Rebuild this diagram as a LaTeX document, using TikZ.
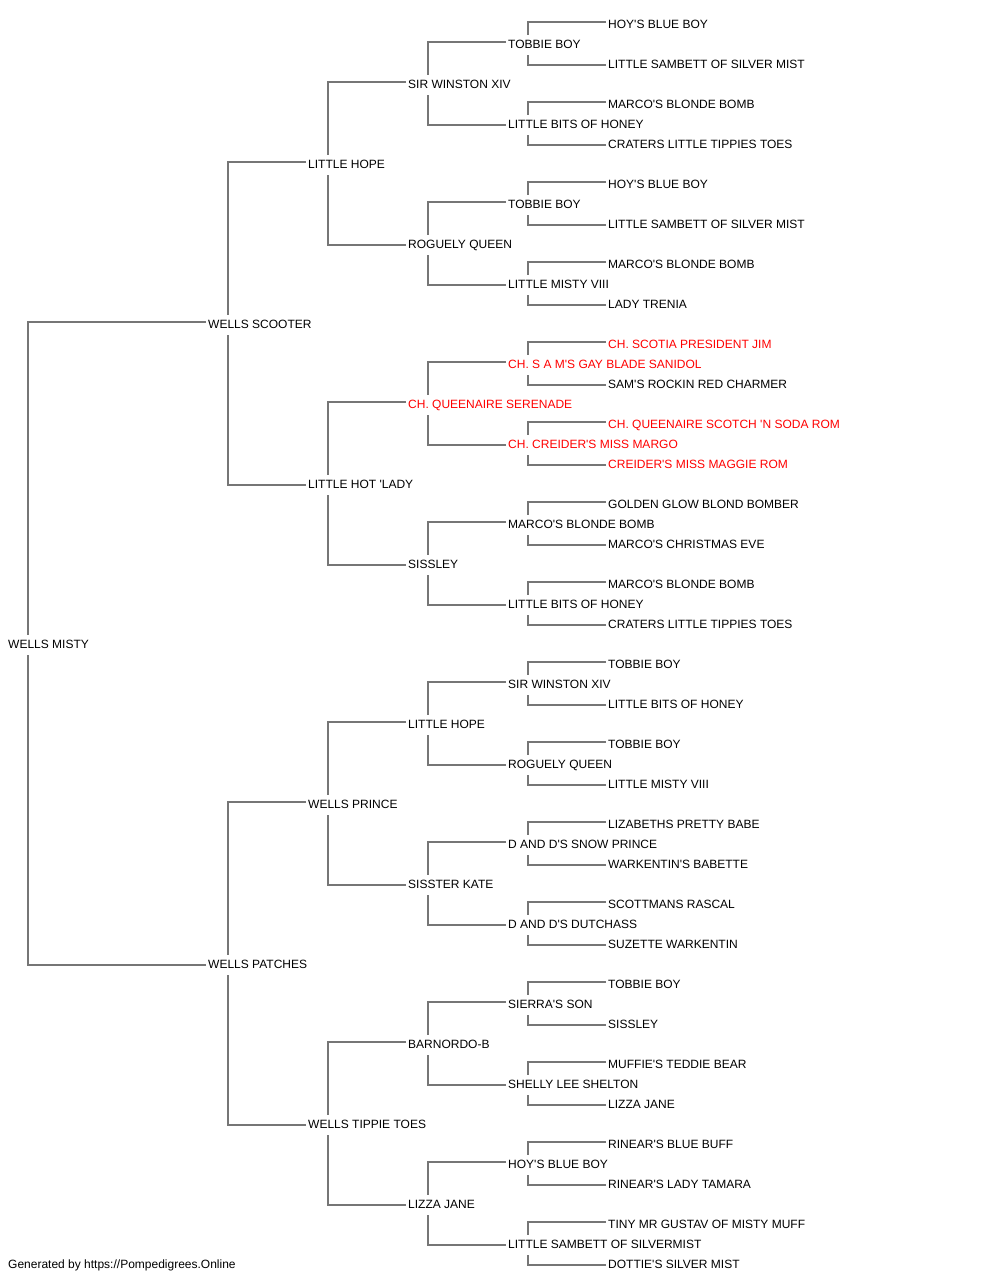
\documentclass[tikz,border=0pt]{standalone}
\usepackage{fontspec}
\setmainfont{Liberation Sans}[Ligatures=TeXOff]
\definecolor{lin}{RGB}{118,118,118}
\definecolor{chred}{RGB}{255,0,0}
\begin{document}
\begin{tikzpicture}[x=1pt,y=-1pt,
  nm/.style={anchor=west,inner sep=0pt,text height=8.6pt,text depth=0pt,font=\fontsize{12pt}{14pt}\selectfont},
  ch/.style={nm,text=chred},
  con/.style={draw=lin,line width=1.4pt}]
\useasboundingbox (0,0) rectangle (1000,1280);
% generation 0
\node[nm] (a1) at (8,644) {WELLS MISTY};
% generation 1
\node[nm] (b1) at (208,324) {WELLS SCOOTER};
\node[nm] (b2) at (208,964) {WELLS PATCHES};
% generation 2
\node[nm] (c1) at (308,164) {LITTLE HOPE};
\node[nm] (c2) at (308,484) {LITTLE HOT 'LADY};
\node[nm] (c3) at (308,804) {WELLS PRINCE};
\node[nm] (c4) at (308,1124) {WELLS TIPPIE TOES};
% generation 3
\node[nm] (d1) at (408,84) {SIR WINSTON XIV};
\node[nm] (d2) at (408,244) {ROGUELY QUEEN};
\node[ch] (d3) at (408,404) {CH. QUEENAIRE SERENADE};
\node[nm] (d4) at (408,564) {SISSLEY};
\node[nm] (d5) at (408,724) {LITTLE HOPE};
\node[nm] (d6) at (408,884) {SISSTER KATE};
\node[nm] (d7) at (408,1044) {BARNORDO-B};
\node[nm] (d8) at (408,1204) {LIZZA JANE};
% generation 4
\node[nm] (e1) at (508,44) {TOBBIE BOY};
\node[nm] (e2) at (508,124) {LITTLE BITS OF HONEY};
\node[nm] (e3) at (508,204) {TOBBIE BOY};
\node[nm] (e4) at (508,284) {LITTLE MISTY VIII};
\node[ch] (e5) at (508,364) {CH. S A M'S GAY BLADE SANIDOL};
\node[ch] (e6) at (508,444) {CH. CREIDER'S MISS MARGO};
\node[nm] (e7) at (508,524) {MARCO'S BLONDE BOMB};
\node[nm] (e8) at (508,604) {LITTLE BITS OF HONEY};
\node[nm] (e9) at (508,684) {SIR WINSTON XIV};
\node[nm] (e10) at (508,764) {ROGUELY QUEEN};
\node[nm] (e11) at (508,844) {D AND D'S SNOW PRINCE};
\node[nm] (e12) at (508,924) {D AND D'S DUTCHASS};
\node[nm] (e13) at (508,1004) {SIERRA'S SON};
\node[nm] (e14) at (508,1084) {SHELLY LEE SHELTON};
\node[nm] (e15) at (508,1164) {HOY'S BLUE BOY};
\node[nm] (e16) at (508,1244) {LITTLE SAMBETT OF SILVERMIST};
% generation 5
\node[nm] (f1) at (608,24) {HOY'S BLUE BOY};
\node[nm] (f2) at (608,64) {LITTLE SAMBETT OF SILVER MIST};
\node[nm] (f3) at (608,104) {MARCO'S BLONDE BOMB};
\node[nm] (f4) at (608,144) {CRATERS LITTLE TIPPIES TOES};
\node[nm] (f5) at (608,184) {HOY'S BLUE BOY};
\node[nm] (f6) at (608,224) {LITTLE SAMBETT OF SILVER MIST};
\node[nm] (f7) at (608,264) {MARCO'S BLONDE BOMB};
\node[nm] (f8) at (608,304) {LADY TRENIA};
\node[ch] (f9) at (608,344) {CH. SCOTIA PRESIDENT JIM};
\node[nm] (f10) at (608,384) {SAM'S ROCKIN RED CHARMER};
\node[ch] (f11) at (608,424) {CH. QUEENAIRE SCOTCH 'N SODA ROM};
\node[ch] (f12) at (608,464) {CREIDER'S MISS MAGGIE ROM};
\node[nm] (f13) at (608,504) {GOLDEN GLOW BLOND BOMBER};
\node[nm] (f14) at (608,544) {MARCO'S CHRISTMAS EVE};
\node[nm] (f15) at (608,584) {MARCO'S BLONDE BOMB};
\node[nm] (f16) at (608,624) {CRATERS LITTLE TIPPIES TOES};
\node[nm] (f17) at (608,664) {TOBBIE BOY};
\node[nm] (f18) at (608,704) {LITTLE BITS OF HONEY};
\node[nm] (f19) at (608,744) {TOBBIE BOY};
\node[nm] (f20) at (608,784) {LITTLE MISTY VIII};
\node[nm] (f21) at (608,824) {LIZABETHS PRETTY BABE};
\node[nm] (f22) at (608,864) {WARKENTIN'S BABETTE};
\node[nm] (f23) at (608,904) {SCOTTMANS RASCAL};
\node[nm] (f24) at (608,944) {SUZETTE WARKENTIN};
\node[nm] (f25) at (608,984) {TOBBIE BOY};
\node[nm] (f26) at (608,1024) {SISSLEY};
\node[nm] (f27) at (608,1064) {MUFFIE'S TEDDIE BEAR};
\node[nm] (f28) at (608,1104) {LIZZA JANE};
\node[nm] (f29) at (608,1144) {RINEAR'S BLUE BUFF};
\node[nm] (f30) at (608,1184) {RINEAR'S LADY TAMARA};
\node[nm] (f31) at (608,1224) {TINY MR GUSTAV OF MISTY MUFF};
\node[nm] (f32) at (608,1264) {DOTTIE'S SILVER MIST};
% footer
\node[nm] (foot) at (8,1264) {Generated by https://Pompedigrees.Online};
% connectors: child (P), sire (S), dam (D)
\foreach \P/\S/\D in {a1/b1/b2,
  b1/c1/c2, b2/c3/c4,
  c1/d1/d2, c2/d3/d4, c3/d5/d6, c4/d7/d8,
  d1/e1/e2, d2/e3/e4, d3/e5/e6, d4/e7/e8, d5/e9/e10, d6/e11/e12, d7/e13/e14, d8/e15/e16,
  e1/f1/f2, e2/f3/f4, e3/f5/f6, e4/f7/f8, e5/f9/f10, e6/f11/f12, e7/f13/f14, e8/f15/f16,
  e9/f17/f18, e10/f19/f20, e11/f21/f22, e12/f23/f24, e13/f25/f26, e14/f27/f28, e15/f29/f30, e16/f31/f32}{
  \draw[con] ([xshift=-2pt,yshift=2pt]\S.west) -| ([xshift=20pt,yshift=9pt]\P.west);
  \draw[con] ([xshift=-2pt,yshift=-1pt]\D.west) -| ([xshift=20pt,yshift=-11pt]\P.west);
}
\end{tikzpicture}
\end{document}
